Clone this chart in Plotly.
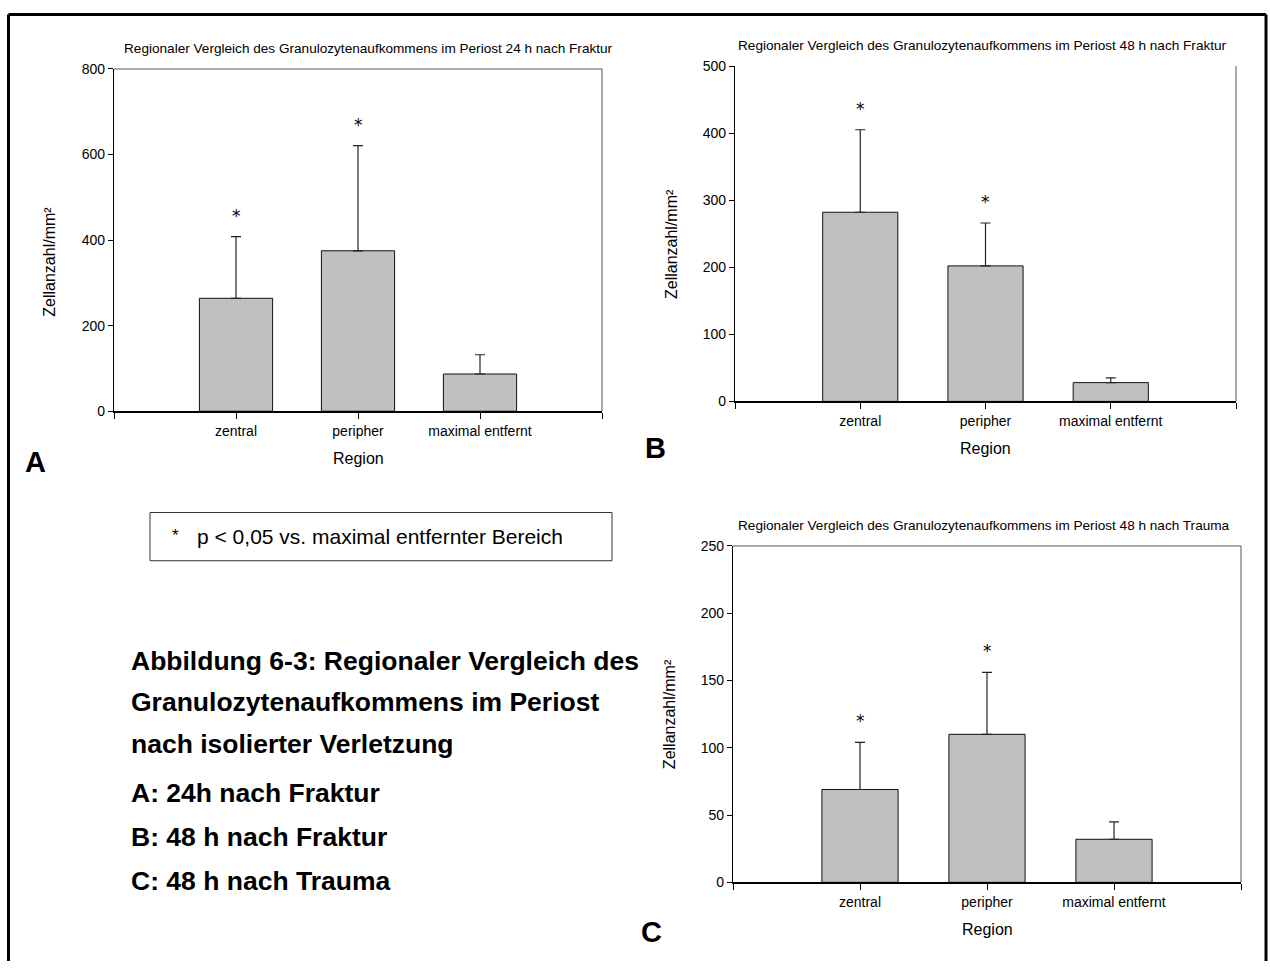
import plotly.graph_objects as go

W, H = 1270, 969

categories = ["zentral", "peripher", "maximal entfernt"]

titles = [
    "Regionaler Vergleich des Granulozytenaufkommens im Periost 24 h nach Fraktur",
    "Regionaler Vergleich des Granulozytenaufkommens im Periost 48 h nach Fraktur",
    "Regionaler Vergleich des Granulozytenaufkommens im Periost 48 h nach Trauma",
]

# mean values (Zellanzahl/mm²)
mean_a = [264, 375, 87]
mean_b = [282, 202, 28]
mean_c = [69, 110, 32]

# upper error (SD / SEM)
err_a = [144, 246, 45]
err_b = [123, 64, 7]
err_c = [35, 46, 13]

# significance p < 0,05 vs. maximal entfernter Bereich
sig_a = [True, True, False]
sig_b = [True, True, False]
sig_c = [True, True, False]

y_ranges = [(0, 800), (0, 500), (0, 250)]
y_dticks = [200, 100, 50]
panel_letters = ["A", "B", "C"]

legend_star = "*"
legend_text = "p < 0,05 vs. maximal entfernter Bereich"
caption_lines = [
    "Abbildung 6-3: Regionaler Vergleich des",
    "Granulozytenaufkommens im Periost",
    "nach isolierter Verletzung",
    "A: 24h nach Fraktur",
    "B: 48 h nach Fraktur",
    "C: 48 h nach Trauma",
]

FONT = "Liberation Sans, Arial, sans-serif"

def px(x):
    return x / W

def py(y):
    return 1 - y / H

# panel geometry in pixels: left, right, top, bottom
boxes = [
    (114, 602, 62, 410),
    (735, 1236, 59, 400),
    (733, 1241, 547, 889),
]
title_cx = [368, 982, 984]
ytitle_cy = [258, 240, 718]
mirror_top = [True, False, True]

fig = go.Figure()

means = [mean_a, mean_b, mean_c]
errs = [err_a, err_b, err_c]
sigs = [sig_a, sig_b, sig_c]

annotations = []
shapes = []

for i in range(3):
    xa = "x" if i == 0 else f"x{i+1}"
    ya = "y" if i == 0 else f"y{i+1}"
    xpos = [k + 1 for k in range(len(categories))]
    fig.add_trace(go.Bar(
        x=xpos, y=means[i], width=0.6,
        marker=dict(color="#c0c0c0", line=dict(color="#111111", width=1)),
        error_y=dict(type="data", symmetric=False, array=errs[i],
                     arrayminus=[0] * len(errs[i]),
                     color="#222222", thickness=1.2, width=5),
        xaxis=xa, yaxis=ya, hoverinfo="skip",
    ))
    l, r, t, b = boxes[i]
    xkey = "xaxis" if i == 0 else f"xaxis{i+1}"
    ykey = "yaxis" if i == 0 else f"yaxis{i+1}"
    fig.layout[xkey] = dict(
        domain=[px(l), px(r)], anchor=ya, range=[0, 4],
        tickmode="array", tickvals=[0, 1, 2, 3, 4],
        ticktext=[""] + categories + [""],
        ticks="outside", ticklen=6, tickwidth=1, tickcolor="#000",
        showline=True, linecolor="#000", linewidth=2,
        showgrid=False, zeroline=False,
        tickfont=dict(family=FONT, size=14, color="#000"),
    )
    fig.layout[ykey] = dict(
        domain=[py(b), py(t)], anchor=xa, range=list(y_ranges[i]),
        dtick=y_dticks[i], tick0=0,
        ticks="outside", ticklen=5, tickwidth=1, tickcolor="#000",
        showline=True, linecolor="#000", linewidth=1.2,
        showgrid=False, zeroline=False,
        tickfont=dict(family=FONT, size=14, color="#000"),
    )
    # right (and top) frame lines
    shapes.append(dict(type="line", xref=f"{xa} domain", yref=f"{ya} domain",
                       x0=1, x1=1, y0=0, y1=1, line=dict(color="#555", width=1)))
    if mirror_top[i]:
        shapes.append(dict(type="line", xref=f"{xa} domain", yref=f"{ya} domain",
                           x0=0, x1=1, y0=1, y1=1, line=dict(color="#555", width=1)))
    # significance asterisks
    for k, s in enumerate(sigs[i]):
        if s:
            annotations.append(dict(
                x=xpos[k], y=means[i][k] + errs[i][k], xref=xa, yref=ya,
                text="*", showarrow=False, yanchor="bottom", yshift=9,
                font=dict(family="DejaVu Sans, sans-serif", size=17, color="#000")))
    # title
    annotations.append(dict(
        x=px(title_cx[i]), y=py(t - 21), xref="paper", yref="paper",
        text=titles[i], showarrow=False, xanchor="center", yanchor="middle",
        font=dict(family=FONT, size=13.6, color="#000")))
    # axis titles
    annotations.append(dict(
        x=px((l + r) / 2), y=py(b + 48), xref="paper", yref="paper",
        text="Region", showarrow=False, xanchor="center", yanchor="middle",
        font=dict(family=FONT, size=16, color="#000")))
    annotations.append(dict(
        x=px(l - 64), y=py(ytitle_cy[i]), xref="paper", yref="paper",
        text="Zellanzahl/mm²", showarrow=False, textangle=-90,
        xanchor="center", yanchor="middle",
        font=dict(family=FONT, size=16, color="#000")))

letter_pos = [(35, 462), (655, 447), (651, 940)]
for (lx, ly), letter in zip(letter_pos, panel_letters):
    annotations.append(dict(
        x=px(lx), y=py(ly), xref="paper", yref="paper", text=f"<b>{letter}</b>",
        showarrow=False, xanchor="center", yanchor="middle",
        font=dict(family=FONT, size=29, color="#000")))

# legend box
shapes.append(dict(type="rect", xref="paper", yref="paper",
                   x0=px(150), x1=px(612), y0=py(562), y1=py(513),
                   line=dict(color="#333", width=1)))
annotations.append(dict(
    x=px(170), y=py(536), xref="paper", yref="paper", text=legend_star,
    showarrow=False, xanchor="left", yanchor="middle",
    font=dict(family=FONT, size=17, color="#000")))
annotations.append(dict(
    x=px(195), y=py(537), xref="paper", yref="paper", text=legend_text,
    showarrow=False, xanchor="left", yanchor="middle",
    font=dict(family=FONT, size=21, color="#000")))

# caption
cap_y = [664, 706, 748, 798, 843, 888]
for line, cy in zip(caption_lines, cap_y):
    annotations.append(dict(
        x=px(129), y=py(cy), xref="paper", yref="paper", text=f"<b>{line}</b>",
        showarrow=False, xanchor="left", yanchor="middle",
        font=dict(family=FONT, size=26.5, color="#000")))

# outer frame (left, top, right)
frame = dict(color="#000", width=3)
shapes.append(dict(type="line", xref="paper", yref="paper",
                   x0=px(8.5), x1=px(8.5), y0=0, y1=py(6.5), line=frame))
shapes.append(dict(type="line", xref="paper", yref="paper",
                   x0=px(8.5), x1=px(1266), y0=py(6.5), y1=py(6.5), line=frame))
shapes.append(dict(type="line", xref="paper", yref="paper",
                   x0=px(1266), x1=px(1266), y0=0, y1=py(6.5), line=frame))

fig.update_layout(
    width=W, height=H, margin=dict(l=0, r=0, t=0, b=0),
    paper_bgcolor="white", plot_bgcolor="white", showlegend=False,
    annotations=annotations, shapes=shapes,
    font=dict(family=FONT, color="#000"),
)

fig.write_html("out.html")
